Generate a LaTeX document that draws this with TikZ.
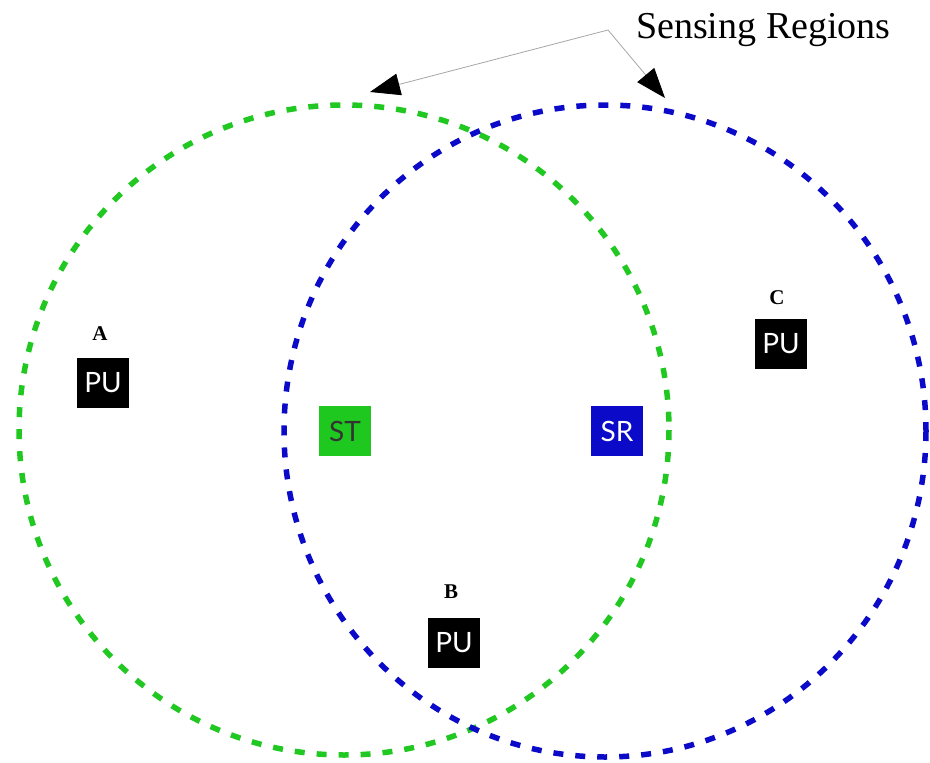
\documentclass[tikz,border=0pt]{standalone}
\usepackage{fontspec}
\setmainfont{Liberation Serif}
\newfontfamily\boxfont{Lato}
\usetikzlibrary{arrows.meta}
\definecolor{regiongreen}{RGB}{34,200,34}
\definecolor{regionblue}{RGB}{10,10,200}
\definecolor{stgreen}{RGB}{30,200,30}
\begin{document}
\begin{tikzpicture}[x=1pt,y=-1pt,
  region/.style={line width=5.5pt,dash pattern=on 10pt off 12pt},
  unit/.style={minimum width=52pt,minimum height=50pt,inner sep=0pt,
    font=\boxfont\fontsize{28}{28}\selectfont},
  pu/.style={unit,fill=black,text=white},
  tag/.style={font=\bfseries\fontsize{21}{21}\selectfont,inner sep=0pt},
  pointer/.style={draw=gray!70,line width=0.8pt,
    -{Triangle[length=30pt,width=22pt,color=black]}}]
\useasboundingbox (0,0) rectangle (930,763);
% sensing regions
\draw[region,regiongreen] (344,430) circle (325);
\draw[region,regionblue] (605,431) ellipse (321 and 326);
% users
\node[pu] (puA) at (103,383) {PU};
\node[tag] (labA) at (100,334) {A};
\node[pu] (puB) at (454,643) {PU};
\node[tag] (labB) at (451,592) {B};
\node[pu] (puC) at (781,344) {PU};
\node[tag] (labC) at (777,298) {C};
\node[unit,fill=stgreen,text=black!80] (st) at (345,431) {ST};
\node[unit,fill=regionblue,text=white] (sr) at (617,431) {SR};
% caption with pointers
\node[anchor=west,font=\fontsize{38}{38}\selectfont,inner sep=0pt] (cap) at (636,30) {Sensing Regions};
\coordinate (apex) at (608,30);
\coordinate (tipL) at (370,92);
\coordinate (tipR) at (665,98);
\draw[pointer] (apex) -- (tipL);
\draw[pointer] (apex) -- (tipR);
\end{tikzpicture}
\end{document}
